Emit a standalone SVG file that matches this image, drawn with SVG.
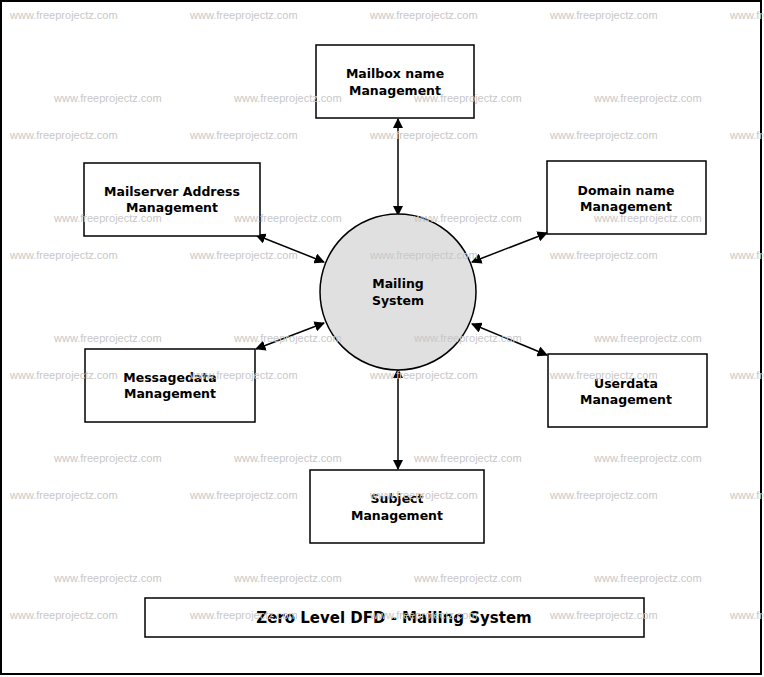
<svg xmlns="http://www.w3.org/2000/svg" width="764" height="677" viewBox="0 0 764 677">
<style>
.wm{font-family:"Liberation Sans",Arial,sans-serif;font-size:11px;fill:#c8c8c8}
.box{fill:#fff;stroke:#000;stroke-width:1.5}
.t{font-family:"DejaVu Sans",sans-serif;font-size:12.5px;font-weight:bold;text-anchor:middle;fill:#000}
.c{stroke:#000;stroke-width:1.5;fill:none;marker-start:url(#a);marker-end:url(#a)}
</style>
<defs><marker id="a" viewBox="0 0 10 10" refX="9" refY="5" markerWidth="7" markerHeight="7" orient="auto-start-reverse"><path d="M0,0 L10,5 L0,10 z" fill="#000"/></marker></defs>
<rect x="0" y="0" width="764" height="677" fill="#fff"/>
<rect x="1" y="1" width="760" height="673" fill="none" stroke="#000" stroke-width="2"/>
<g id="connectors">
<line class="c" x1="398" y1="119" x2="398" y2="215"/>
<line class="c" x1="256" y1="235" x2="324" y2="262"/>
<line class="c" x1="472" y1="262" x2="547" y2="233"/>
<line class="c" x1="256" y1="349" x2="324" y2="323"/>
<line class="c" x1="472" y1="324" x2="547" y2="355"/>
<line class="c" x1="398" y1="369" x2="398" y2="469"/>
</g>
<g id="mailbox"><rect class="box" x="316" y="45" width="158" height="73"/><text class="t" x="395" y="78">Mailbox name</text><text class="t" x="395" y="95">Management</text></g>
<g id="mailserver"><rect class="box" x="84" y="163" width="176" height="73"/><text class="t" x="172" y="196">Mailserver Address</text><text class="t" x="172" y="212">Management</text></g>
<g id="domain"><rect class="box" x="547" y="161" width="159" height="73"/><text class="t" x="626" y="195">Domain name</text><text class="t" x="626" y="211">Management</text></g>
<g id="system"><circle cx="398" cy="292" r="78" fill="#e0e0e0" stroke="#000" stroke-width="1.5"/><text class="t" x="398" y="288">Mailing</text><text class="t" x="398" y="305">System</text></g>
<g id="messagedata"><rect class="box" x="85" y="349" width="170" height="73"/><text class="t" x="170" y="382">Messagedata</text><text class="t" x="170" y="398">Management</text></g>
<g id="userdata"><rect class="box" x="548" y="354" width="159" height="73"/><text class="t" x="626" y="388">Userdata</text><text class="t" x="626" y="404">Management</text></g>
<g id="subject"><rect class="box" x="310" y="470" width="174" height="73"/><text class="t" x="397" y="503">Subject</text><text class="t" x="397" y="520">Management</text></g>
<g id="title"><rect class="box" x="145" y="598" width="499" height="39"/><text class="t" x="394" y="623" style="font-size:15px">Zero Level DFD - Mailing System</text></g>
<g id="watermarks">
<text class="wm" x="10" y="19">www.freeprojectz.com</text><text class="wm" x="190" y="19">www.freeprojectz.com</text><text class="wm" x="370" y="19">www.freeprojectz.com</text><text class="wm" x="550" y="19">www.freeprojectz.com</text><text class="wm" x="730" y="19">www.freeprojectz.com</text>
<text class="wm" x="54" y="102">www.freeprojectz.com</text><text class="wm" x="234" y="102">www.freeprojectz.com</text><text class="wm" x="414" y="102">www.freeprojectz.com</text><text class="wm" x="594" y="102">www.freeprojectz.com</text>
<text class="wm" x="10" y="139">www.freeprojectz.com</text><text class="wm" x="190" y="139">www.freeprojectz.com</text><text class="wm" x="370" y="139">www.freeprojectz.com</text><text class="wm" x="550" y="139">www.freeprojectz.com</text><text class="wm" x="730" y="139">www.freeprojectz.com</text>
<text class="wm" x="54" y="222">www.freeprojectz.com</text><text class="wm" x="234" y="222">www.freeprojectz.com</text><text class="wm" x="414" y="222">www.freeprojectz.com</text><text class="wm" x="594" y="222">www.freeprojectz.com</text>
<text class="wm" x="10" y="259">www.freeprojectz.com</text><text class="wm" x="190" y="259">www.freeprojectz.com</text><text class="wm" x="370" y="259">www.freeprojectz.com</text><text class="wm" x="550" y="259">www.freeprojectz.com</text><text class="wm" x="730" y="259">www.freeprojectz.com</text>
<text class="wm" x="54" y="342">www.freeprojectz.com</text><text class="wm" x="234" y="342">www.freeprojectz.com</text><text class="wm" x="414" y="342">www.freeprojectz.com</text><text class="wm" x="594" y="342">www.freeprojectz.com</text>
<text class="wm" x="10" y="379">www.freeprojectz.com</text><text class="wm" x="190" y="379">www.freeprojectz.com</text><text class="wm" x="370" y="379">www.freeprojectz.com</text><text class="wm" x="550" y="379">www.freeprojectz.com</text><text class="wm" x="730" y="379">www.freeprojectz.com</text>
<text class="wm" x="54" y="462">www.freeprojectz.com</text><text class="wm" x="234" y="462">www.freeprojectz.com</text><text class="wm" x="414" y="462">www.freeprojectz.com</text><text class="wm" x="594" y="462">www.freeprojectz.com</text>
<text class="wm" x="10" y="499">www.freeprojectz.com</text><text class="wm" x="190" y="499">www.freeprojectz.com</text><text class="wm" x="370" y="499">www.freeprojectz.com</text><text class="wm" x="550" y="499">www.freeprojectz.com</text><text class="wm" x="730" y="499">www.freeprojectz.com</text>
<text class="wm" x="54" y="582">www.freeprojectz.com</text><text class="wm" x="234" y="582">www.freeprojectz.com</text><text class="wm" x="414" y="582">www.freeprojectz.com</text><text class="wm" x="594" y="582">www.freeprojectz.com</text>
<text class="wm" x="10" y="619">www.freeprojectz.com</text><text class="wm" x="190" y="619">www.freeprojectz.com</text><text class="wm" x="370" y="619">www.freeprojectz.com</text><text class="wm" x="550" y="619">www.freeprojectz.com</text><text class="wm" x="730" y="619">www.freeprojectz.com</text>
</g>
</svg>
